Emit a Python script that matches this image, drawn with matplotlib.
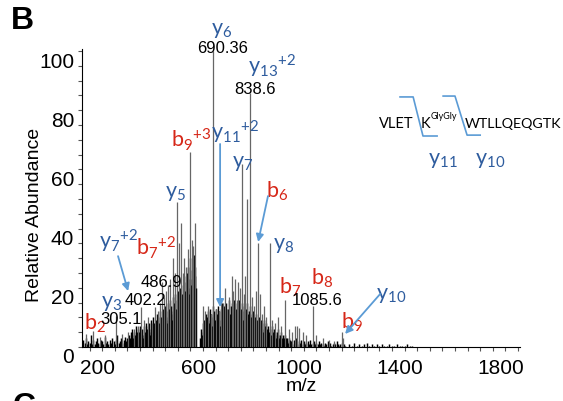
import numpy as np
import matplotlib.pyplot as plt
from matplotlib.ticker import MultipleLocator, FixedLocator
from matplotlib.transforms import ScaledTranslation

plt.rcParams['mathtext.default'] = 'regular'

# distinct peaks (m/z, relative abundance)
peak_mz = [186, 215, 240, 262, 305.1, 330, 352, 375, 392, 402.2, 418, 432, 447,
           460, 470, 478, 486.9, 496, 504, 513, 520, 531, 538, 546, 556, 563,
           570, 576, 582, 590, 599, 605, 611, 619, 652, 660, 670, 680, 690.36,
           700, 712, 722, 730, 738, 745, 752, 764, 771, 777, 784, 790, 798,
           805, 812, 817, 826, 838.6, 845, 853, 860, 869, 876, 885, 893, 900,
           916, 925, 935, 948, 960, 976, 990, 1005, 1015, 1022, 1030, 1045,
           1060, 1087, 1100, 1125, 1150, 1170, 1200, 1205]
peak_int = [4.4, 5.5, 3.5, 4, 10.6, 4.5, 5, 6, 7, 13.5, 9, 10, 8,
            13.5, 12, 15, 22, 17, 19, 21, 23, 30, 25, 49, 35, 42,
            25, 30, 27, 33, 66, 36, 34, 42, 14, 12, 14, 11, 100,
            13, 12, 16, 15, 20, 13, 17, 24, 19, 23, 16, 22, 20,
            62, 18, 24, 50, 86, 17, 14, 19, 35, 18, 11, 14, 10,
            35, 9, 8, 10, 7, 16, 6, 5, 7, 7, 6.5, 5,
            4, 14, 4, 3, 2.5, 2, 5, 3]

# low level background ("grass"), per segment: first m/z, spacing, abundances
grass_a_start, grass_a_step = 175, 5
grass_a = [2.5, 1.5, 3, 1, 2, 1.5, 4, 1, 2.5, 1, 2, 3, 1.5, 1, 2.5, 2, 1, 3.5, 1.5,
           2, 1, 2.5, 1.5, 3, 2, 1, 2.5, 4, 1.5, 2, 3, 1.5, 2.5, 3.5, 2, 3, 4]
grass_b_start, grass_b_step = 360, 2.5
grass_b = [3, 5, 2, 4, 6, 3, 5, 2, 4, 7,
           3, 5, 4, 6, 2, 5, 7, 3, 5, 4,
           6, 3, 7, 4, 5, 8, 3, 6, 4, 7,
           5, 8, 4, 9, 6, 3, 7, 10, 5, 8,
           6, 9, 4, 11, 7, 10, 5, 8, 12, 6,
           10, 7, 13, 8, 11, 6, 14, 9, 12, 8,
           15, 10, 13, 7, 16, 11, 14, 9, 17, 12,
           15, 10, 18, 13, 16, 11, 19, 14, 17, 12,
           20, 15, 18, 13, 21, 16, 24, 14, 19, 22,
           17, 25, 20, 27, 18, 23, 30, 21, 26, 19,
           28, 22, 31, 24, 27, 20]
grass_c_start, grass_c_step = 640, 3
grass_c = [3, 6, 4, 8, 5, 9, 7, 11, 6, 10,
           12, 8, 13, 9, 11, 7, 14, 10, 12, 9,
           13, 8, 11, 14, 9, 12, 7, 13, 10, 15,
           11, 14, 8, 12, 15, 10, 13, 9, 16, 11,
           14, 10, 15, 12, 9, 16, 11, 13, 10, 15,
           12, 16, 10, 13, 11, 15, 9, 14, 12, 10,
           13, 9, 15, 11, 12, 8, 14, 10, 11, 9,
           12, 8, 10, 7, 11, 9, 6, 10, 8, 7,
           9, 6, 8, 5, 9, 7, 5, 8, 6, 4,
           7, 5, 6, 4, 7, 3, 5, 6, 4, 5,
           3, 5, 4, 6, 3, 4, 2, 5, 3, 4,
           3, 2, 4, 3, 2, 3, 1.5, 3, 2, 2.5]
grass_d_start, grass_d_step = 1000, 5
grass_d = [2, 1, 2.5, 1.5, 3, 1, 2, 1.5, 2.5, 1, 2, 1, 1.5, 2, 1, 2.5, 1, 1.5, 2, 1,
           1.5, 1, 2, 1, 1.5, 1, 0.5, 1.5, 1, 2, 1, 1.5, 0.5, 1, 1.5, 1, 2, 1, 0.5,
           1, 1.5, 0.5, 1, 0.5]
grass_e_start, grass_e_step = 1230, 10
grass_e = [1, 0.5, 1.5, 0.5, 1, 0.5, 1, 1.5, 0.5, 1, 0.5, 1, 0.5, 1, 0.5, 0.5, 1,
           0.5, 0.5, 1, 0.5, 0.5, 0.5, 1, 0.5, 0.5]

blue = '#2e5c9e'
red = '#d62718'
arrow_blue = '#5b9bd5'

# ion labels: text, colour, m/z, abundance of label centre
ion_labels = [
    (r'$y_6$', blue, 726, 107.4),
    (r'$y_{13}{}^{+2}$', blue, 924, 95.3),
    (r'$b_9{}^{+3}$', red, 603, 70.3),
    (r'$y_{11}{}^{+2}$', blue, 777, 73),
    (r'$y_7$', blue, 809, 62.5),
    (r'$b_6$', red, 944, 53),
    (r'$y_5$', blue, 543, 52.4),
    (r'$y_8$', blue, 972, 34.8),
    (r'$y_7{}^{+2}$', blue, 317, 36.1),
    (r'$b_7{}^{+2}$', red, 464, 33.8),
    (r'$y_3$', blue, 289, 15.2),
    (r'$b_2$', red, 222, 8.4),
    (r'$b_7$', red, 996, 20.6),
    (r'$b_8$', red, 1122, 23.6),
    (r'$b_9$', red, 1242, 8.8),
    (r'$y_{10}$', blue, 1396, 17.9),
]
mass_labels = [('690.36', 726, 101.2), ('838.6', 857, 87.2), ('486.9', 484, 22.3),
               ('402.2', 420, 15.9), ('305.1', 325, 9.5), ('1085.6', 1103, 16.2)]
# arrows: tail (m/z, abundance) -> head
arrows = [((718, 68.6), (718, 13.5)), ((908, 51), (869, 35.5)),
          ((313, 30.7), (353, 18.9)), ((1353, 17.9), (1214, 4.4))]

fig = plt.figure(figsize=(5.63, 4.02), dpi=100)
ax = fig.add_axes([82 / 563, 54 / 402, 438 / 563, 298 / 402])

segments = [(grass_a_start, grass_a_step, grass_a), (grass_b_start, grass_b_step, grass_b),
            (grass_c_start, grass_c_step, grass_c), (grass_d_start, grass_d_step, grass_d),
            (grass_e_start, grass_e_step, grass_e)]
grass_mz = np.concatenate([s + st * np.arange(len(v)) for s, st, v in segments])
grass_int = np.concatenate([v for s, st, v in segments])

ax.vlines(grass_mz, 0, grass_int, color='black', lw=1.05)
ax.vlines(peak_mz, 0, peak_int, color='#666666', lw=0.9)

ax.set_xlim(170, 1908)
ax.set_ylim(0, 100.7)
ax.spines['top'].set_visible(False)
ax.spines['right'].set_visible(False)
ax.xaxis.set_major_locator(FixedLocator([200, 600, 1000, 1400, 1800]))
ax.xaxis.set_minor_locator(MultipleLocator(50))
ax.yaxis.set_major_locator(MultipleLocator(20))
ax.yaxis.set_minor_locator(MultipleLocator(5))
ax.tick_params(which='both', length=3, width=0.8, color='#555555')
ax.tick_params(axis='x', pad=5, labelsize=15)
ax.tick_params(axis='y', pad=2.5, labelsize=15)
for lab in ax.get_xticklabels() + ax.get_yticklabels():
    lab.set_fontfamily('Liberation Sans')
for lab in ax.get_xticklabels():
    lab.set_transform(lab.get_transform() + ScaledTranslation(0.08, 0, fig.dpi_scale_trans))
for lab in ax.get_yticklabels():
    lab.set_transform(lab.get_transform() + ScaledTranslation(0, -0.08, fig.dpi_scale_trans))

ax.set_xlabel('m/z', fontsize=14, family='Liberation Sans')
ax.set_ylabel('Relative Abundance', fontsize=14, family='Liberation Sans')
ax.xaxis.set_label_coords(0.5, -0.1)
ax.yaxis.set_label_coords(-0.09, 0.446)

for txt, col, x, y in ion_labels:
    ax.text(x, y, txt, color=col, fontsize=15.5, family='Lato', ha='center', va='center', clip_on=False)
for txt, x, y in mass_labels:
    ax.text(x, y, txt, color='black', fontsize=12, family='Liberation Sans', ha='center', va='center')
for tail, head in arrows:
    ax.annotate('', xy=head, xytext=tail,
                arrowprops=dict(arrowstyle='-|>', color=arrow_blue, lw=1.3,
                                mutation_scale=11, shrinkA=0, shrinkB=0))

# peptide with cleavage brackets
ax.text(1416, 75.7, 'VLET', fontsize=10.5, family='Lato', ha='center', va='center')
ax.text(1531, 75.7, 'K', fontsize=10.5, family='Lato', ha='center', va='center')
ax.text(1606, 78.3, 'GlyGly', fontsize=6.5, family='Lato', ha='center', va='center')
ax.text(1688, 75.7, 'WTLLQEQGTK', fontsize=10.3, family='Lato', ha='left', va='center', clip_on=False)
ax.plot([1432, 1484, 1523, 1579], [84.5, 84.5, 71.3, 71.3], color=arrow_blue, lw=1.2, clip_on=False)
ax.plot([1603, 1650, 1698, 1750], [84.8, 84.8, 71.6, 71.6], color=arrow_blue, lw=1.2, clip_on=False)
ax.text(1603, 63.5, r'$y_{11}$', color=blue, fontsize=15.5, family='Lato', ha='center', va='center')
ax.text(1789, 63.5, r'$y_{10}$', color=blue, fontsize=15.5, family='Lato', ha='center', va='center')

fig.text(22 / 563, 1 - 21 / 402, 'B', fontsize=23, weight='bold', family='Liberation Sans',
         ha='center', va='center')
fig.text(24 / 563, 1 - 392 / 402, 'C', fontsize=23, weight='bold', family='Liberation Sans',
         ha='center', va='top')

fig.savefig('out.png', dpi=100)
